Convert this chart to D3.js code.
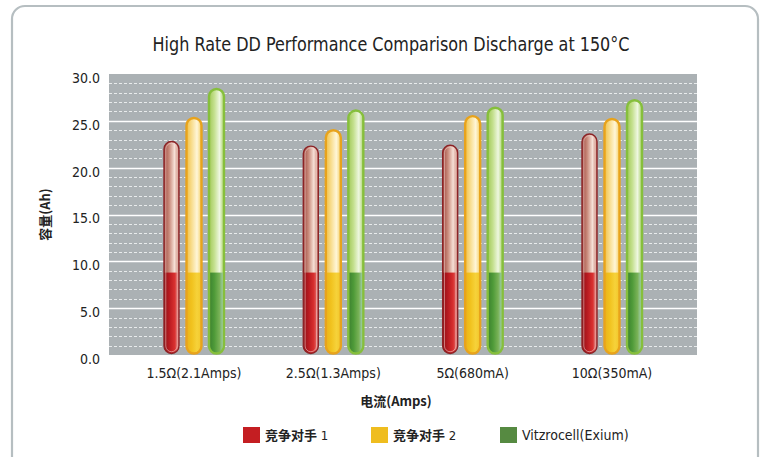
<!DOCTYPE html>
<html><head>
<meta charset="utf-8">
<script src="https://d3js.org/d3.v7.min.js"></script>
<style>
  body { margin: 0; background: #fff; }
  text { font-family: "Liberation Sans Narrow", "DejaVu Sans Condensed", "Roboto", sans-serif; fill: #222; }
  .cjk { font-family: "Noto Sans CJK SC", sans-serif; font-weight: bold; }
  .plain { font-family: "Liberation Sans Narrow", "DejaVu Sans Condensed", "Roboto", sans-serif; font-weight: normal; }
</style>
</head>
<body>
<svg id="chart" width="761" height="457"></svg>
<script>
// data
let categories = ["1.5\u03A9(2.1Amps)", "2.5\u03A9(1.3Amps)", "5\u03A9(680mA)", "10\u03A9(350mA)"];
let seriesNames = ["竞争对手 1", "竞争对手 2", "Vitzrocell(Exium)"];
let rival1 = [22.8, 22.3, 22.4, 23.6];
let rival2 = [25.3, 24.0, 25.5, 25.2];
let exium  = [28.4, 26.1, 26.4, 27.2];
let lowerFill = 8.8;   // the darker bottom part of every tube
let yTicks = [0, 5, 10, 15, 20, 25, 30];

let seriesValues = [rival1, rival2, exium];

// look of each series: legend colour, outline, lower + upper gradient stops
let looks = [
  { key: "red", legend: "#c41e22", stroke: "#8c2326", sw: 1.4,
    low: ["#8e1217", "#b81a20", "#d8302f", "#e68a86"],
    up:  ["#a04a40", "#c98b7c", "#f6e0d6", "#c47a6a"] },
  { key: "yel", legend: "#efbd1f", stroke: "#e8a31c", sw: 2.4,
    low: ["#eab31a", "#f1c21e", "#f6d23a", "#f2c62a"],
    up:  ["#f1c24a", "#f8dd8e", "#fff6d8", "#f3cf66"] },
  { key: "grn", legend: "#568a41", stroke: "#86bf3c", sw: 2.4,
    low: ["#3b8030", "#4e9a38", "#79b257", "#a8d3c0"],
    up:  ["#a2c95a", "#c4e08e", "#eef7e0", "#a9d06a"] }
];

let svg = d3.select("#chart");
let W = +svg.attr("width"), H = +svg.attr("height");

// outer rounded frame
svg.append("rect")
  .attr("x", 12).attr("y", 6).attr("width", 746).attr("height", 470)
  .attr("rx", 13)
  .style("fill", "none").style("stroke", "#b6bec1").style("stroke-width", 2.2);

// title
svg.append("text")
  .attr("x", 391).attr("y", 51)
  .attr("text-anchor", "middle")
  .attr("textLength", 477).attr("lengthAdjust", "spacingAndGlyphs")
  .style("font-size", "19px")
  .text("High Rate DD Performance Comparison Discharge at 150\u00B0C");

let margin = { top: 74, left: 109, right: 64, bottom: 102 };
let plotW = W - margin.left - margin.right;   // 588
let plotH = H - margin.top - margin.bottom;   // 281

let plot = svg.append("g").attr("transform", "translate(" + margin.left + "," + margin.top + ")");

let y = d3.scaleLinear().domain([0, 30]).range([plotH, 0]);
let x = d3.scaleBand().domain(categories).range([0, plotW]).paddingOuter(0.11).paddingInner(0);
let xs = d3.scaleBand().domain(seriesNames).range([-33.75, 33.75]);

// background
plot.append("rect").attr("width", plotW).attr("height", plotH).style("fill", "#abb1b4");

// minor dashed grid at every unit
let minor = d3.range(1, 30).filter(d => d % 5 !== 0);
plot.append("g").selectAll("line").data(minor).enter().append("line")
  .attr("x1", 0).attr("x2", plotW)
  .attr("y1", d => Math.round(y(d)) + 0.5).attr("y2", d => Math.round(y(d)) + 0.5)
  .style("stroke", "#e8ebec").style("stroke-width", 1)
  .style("stroke-dasharray", "3,2");

// major solid grid
plot.append("g").selectAll("line").data(yTicks.filter(d => d > 0 && d < 30)).enter().append("line")
  .attr("x1", 0).attr("x2", plotW)
  .attr("y1", d => Math.round(y(d)) + 0.5).attr("y2", d => Math.round(y(d)) + 0.5)
  .style("stroke", "#ffffff").style("stroke-width", 1.4);

// y axis labels
let yAxis = d3.axisLeft(y).tickValues(yTicks).tickFormat(d3.format(".1f")).tickSize(0).tickPadding(9);
let yg = plot.append("g").call(yAxis);
yg.select(".domain").remove();
yg.selectAll("text").attr("dy", "0.6em").style("font-size", "14px").style("fill", "#222")
  .style("font-family", "'Liberation Sans Narrow', 'DejaVu Sans Condensed', Roboto, sans-serif");

// x axis labels
let xAxis = d3.axisBottom(x).tickSize(0).tickPadding(13);
let xg = plot.append("g").attr("transform", "translate(0," + plotH + ")").call(xAxis);
xg.select(".domain").remove();
xg.selectAll("text").style("font-size", "14px").style("fill", "#222")
  .style("font-family", "'Liberation Sans Narrow', 'DejaVu Sans Condensed', Roboto, sans-serif");

// axis titles
svg.append("text").attr("class", "cjk")
  .attr("transform", "translate(50," + (margin.top + y(15)) + ") rotate(-90)")
  .attr("text-anchor", "middle")
  .style("font-size", "13px")
  .text("容量(Ah)");

svg.append("text").attr("class", "cjk")
  .attr("x", 396).attr("y", 406)
  .attr("text-anchor", "middle")
  .style("font-size", "13px")
  .text("电流(Amps)");

// gradients
let defs = svg.append("defs");
looks.forEach(lk => {
  ["low", "up"].forEach(part => {
    let g = defs.append("linearGradient").attr("id", lk.key + "-" + part)
      .attr("x1", "0%").attr("x2", "100%").attr("y1", "0%").attr("y2", "0%");
    let offs = [0, 0.35, 0.7, 1];
    lk[part].forEach((c, i) => g.append("stop").attr("offset", offs[i]).attr("stop-color", c));
  });
});

// tubes
let barW = 15;
let rows = [];
categories.forEach((c, ci) => {
  seriesNames.forEach((s, si) => {
    rows.push({ cat: c, ser: s, si: si, ci: ci, value: seriesValues[si][ci] });
  });
});

let tubes = plot.selectAll("g.tube").data(rows).enter().append("g")
  .attr("class", "tube")
  .attr("transform", d => "translate(" + (x(d.cat) + x.bandwidth() / 2 + xs(d.ser) + xs.bandwidth() / 2 - barW / 2) + ",0)");

tubes.each(function(d, i) {
  let g = d3.select(this);
  let lk = looks[d.si];
  let top = y(d.value), bot = y(0) - 1.5;
  let clipId = "clip" + i;
  defs.append("clipPath").attr("id", clipId)
    .append("rect").attr("x", 0).attr("y", top).attr("width", barW).attr("height", bot - top)
    .attr("rx", barW / 2).attr("ry", barW / 2);
  let inner = g.append("g").attr("clip-path", "url(#" + clipId + ")");
  inner.append("rect").attr("x", 0).attr("y", top).attr("width", barW).attr("height", bot - top)
    .style("fill", "url(#" + lk.key + "-up)");
  inner.append("rect").attr("x", 0).attr("y", y(lowerFill)).attr("width", barW).attr("height", bot - y(lowerFill))
    .style("fill", "url(#" + lk.key + "-low)");
  // outline
  g.append("rect").attr("x", 0).attr("y", top).attr("width", barW).attr("height", bot - top)
    .attr("rx", barW / 2).attr("ry", barW / 2)
    .style("fill", "none").style("stroke", lk.stroke).style("stroke-width", lk.sw);
  if (d.si === 0) {
    g.append("rect").attr("x", 1.8).attr("y", top + 1.8).attr("width", barW - 3.6).attr("height", bot - top - 3.6)
      .attr("rx", (barW - 3.6) / 2)
      .style("fill", "none").style("stroke", "#f0d0cc").style("stroke-width", 0.7).style("opacity", 0.8);
  }
});

// legend
let legendX = [243, 371, 500];
let legend = svg.append("g").selectAll("g").data(seriesNames).enter().append("g")
  .attr("transform", (d, i) => "translate(" + legendX[i] + ",427)");
legend.append("rect").attr("width", 17).attr("height", 16)
  .style("fill", (d, i) => looks[i].legend);
let ltext = legend.append("text")
  .attr("x", 22).attr("y", 13)
  .style("font-size", "13px");
// CJK part bold, latin part plain
ltext.each(function(d) {
  let t = d3.select(this);
  let m = d.match(/^([^\x00-\x7F]+)(.*)$/);
  if (m) {
    t.append("tspan").attr("class", "cjk").text(m[1]);
    t.append("tspan").attr("class", "plain").text(m[2]);
  } else {
    t.append("tspan").attr("class", "plain").style("font-size", "14px").text(d);
  }
});
</script>
</body>
</html>
